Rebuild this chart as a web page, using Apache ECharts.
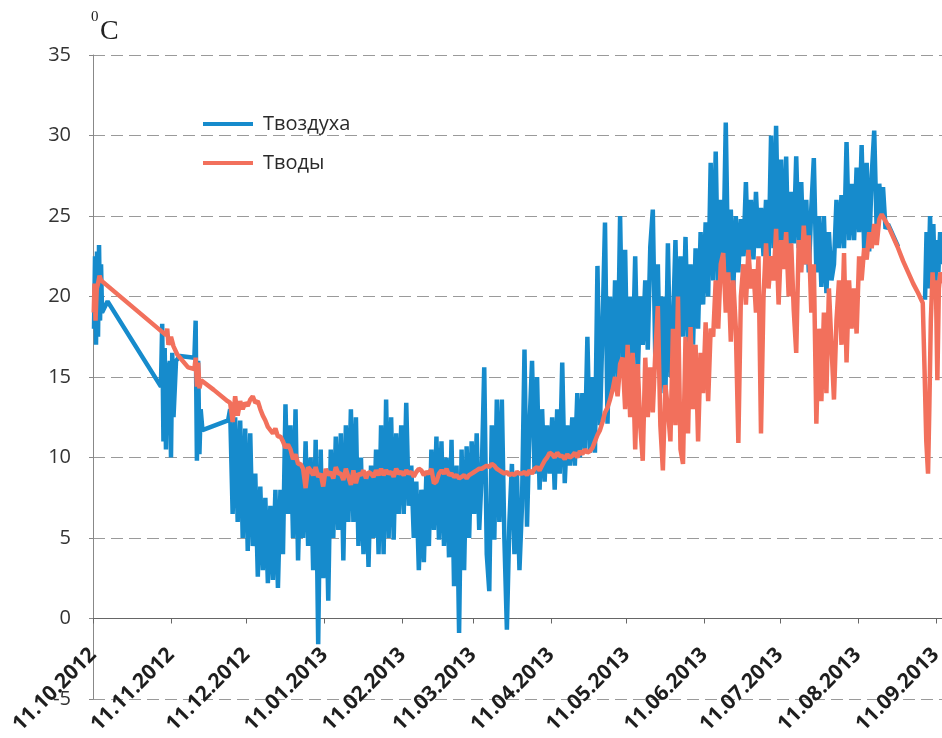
<!DOCTYPE html>
<html>
<head>
<meta charset="utf-8">
<title>Температура воздуха и воды</title>
<script src="https://cdn.jsdelivr.net/npm/echarts@6/dist/echarts.min.js"></script>
<style>
  html, body { margin: 0; padding: 0; background: #ffffff; }
  #chart { width: 942px; height: 738px; }
</style>
</head>
<body>
<div id="chart"></div>
<script>
// Day offsets are counted from 11.10.2012.
const startDate = [2012, 9, 11];

// Month tick labels on the date axis
const monthLabels = ['11.10.2012', '11.11.2012', '11.12.2012', '11.01.2013', '11.02.2013', '11.03.2013',
  '11.04.2013', '11.05.2013', '11.06.2013', '11.07.2013', '11.08.2013', '11.09.2013'];

const seriesNames = ['Твоздуха', 'Тводы'];

// Air temperature: scattered readings in autumn 2012 [day, °C]
const airEarly = [
  [0.4, 18.0], [0.8, 22.5], [1.2, 17.0], [1.6, 22.8], [2.0, 17.5], [2.4, 23.2], [2.8, 18.5], [3.2, 22.0],
  [3.6, 19.0], [5.8, 19.7], [27.0, 14.4], [27.5, 18.3], [28.0, 11.0], [28.5, 16.8], [29.0, 10.5],
  [29.5, 15.9], [30.0, 12.0], [30.5, 16.0], [31.0, 10.0], [31.5, 16.5], [32.0, 12.5], [33.0, 16.0],
  [34.5, 16.3], [40.3, 16.2], [40.8, 18.5], [41.3, 9.8], [41.8, 16.0], [42.3, 10.2], [42.8, 13.0],
  [43.5, 11.7], [53.7, 12.3]
];
// Air temperature: continuous record, one reading per day from day 54.5
const airDailyStart = 54.5;
const airDaily = [
  13.0, 6.5, 12.5, 6.0,   12.3, 5.0, 11.8, 4.2,   11.5, 4.5, 9.0, 2.6,    8.2, 3.0, 7.5, 2.2,
  7.0, 2.4, 8.0, 1.9,     8.0, 4.0, 13.3, 6.5,    12.0, 5.0, 13.0, 3.6,   9.5, 5.0, 11.0, 4.5,
  10.0, 3.0, 11.1, -1.6,  10.5, 2.5, 9.0, 1.1,    10.5, 5.0, 11.3, 5.5,   11.5, 3.6, 12.0, 6.0,
  13.0, 6.0, 12.5, 4.5,   10.0, 4.0, 9.0, 3.2,    9.5, 5.0, 10.5, 4.0,    12.0, 4.0, 13.6, 5.0,
  12.5, 4.9, 11.5, 6.5,   12.0, 6.5, 13.4, 7.0,   9.5, 5.0, 8.5, 3.0,     8.0, 3.5, 9.0, 4.5,
  10.5, 5.5, 11.3, 4.9,   11.0, 4.5, 10.0, 3.8,   11.1, 2.0, 9.5, -0.9,   10.5, 3.0, 10.7, 5.0,
  11.0, 6.5, 11.5, 5.5,   9.0, 15.6, 4.0, 1.7,    12.0, 4.9, 13.6, 6.0,   13.6, 5.0, -0.7, 6.0,
  9.6, 4.0, 9.0, 3.0,     7.0, 16.7, 5.7, 12.0,   16.0, 9.0, 15.0, 8.0,   13.0, 8.5, 12.0, 9.0,
  12.5, 8.0, 13.0, 9.0,   15.9, 8.4, 12.0, 9.5,   12.5, 9.5, 14.0, 10.0,  14.0, 10.5, 17.5, 10.3,
  15.0, 10.3, 21.9, 12.0, 18.0, 24.6, 12.1, 20.0, 14.2, 21.0, 15.0, 25.0, 16.0, 22.9, 14.2, 20.0,
  16.0, 22.5, 15.0, 20.0, 17.0, 21.0, 16.7, 23.1, 25.4, 16.0, 22.0, 14.0, 20.0, 13.8, 23.3, 15.0,
  18.0, 23.5, 16.5, 22.5, 17.5, 23.7, 17.1, 22.0, 17.0, 23.0, 18.0, 24.0, 19.5, 24.6, 20.0, 28.3,
  21.0, 29.0, 20.5, 26.0, 22.0, 30.8, 21.0, 25.4, 20.5, 25.0, 21.5, 24.8, 22.5, 27.1, 22.0, 26.0,
  22.3, 26.5, 23.0, 25.5, 22.5, 26.0, 22.1, 30.0, 23.0, 30.6, 22.5, 28.5, 22.0, 28.7, 21.7, 26.5,
  23.3, 28.7, 23.0, 27.1, 22.0, 26.0, 21.5, 25.5, 28.6, 21.5, 25.0, 20.6, 25.0, 20.2, 24.0, 21.0,
  22.0, 26.0, 23.0, 26.3, 23.0, 29.6, 23.5, 27.0, 23.5, 28.0, 24.0, 29.4, 23.0, 28.3, 22.8, 27.5,
  30.3, 24.0, 27.0, 25.0
];
// Air temperature: end of the record, a logger gap, then September 2013 [day, °C]
const airLate = [
  [314.0, 26.8], [315.0, 24.2], [316.0, 24.5], [320.0, 23.1], [325.0, null],
  [330.7, 19.8], [331.3, 24.0], [332.0, 20.5], [332.7, 25.0], [333.3, 21.0], [334.0, 24.5],
  [334.7, 20.0], [335.3, 23.5], [336.0, 21.5], [336.7, 24.0], [337.4, 22.0]
];

// Water temperature: autumn 2012 [day, °C]
const waterEarly = [
  [0.3, 19.0], [0.6, 20.8], [1.0, 18.5], [1.5, 20.5], [2.0, 20.8], [2.6, 21.3], [3.2, 21.0],
  [29.0, 17.6], [29.5, 18.0], [30.0, 17.0], [31.0, 17.5], [32.0, 16.9], [33.5, 16.4], [37.8, 15.6],
  [40.3, 15.5], [40.8, 16.2], [41.3, 14.4], [41.8, 15.9], [42.3, 14.3], [43.0, 14.8], [48.0, 14.2],
  [53.5, 13.5]
];
// Water temperature: one reading per day from day 54.5
const waterDailyStart = 54.5;
const waterDaily = [
  13.4, 12.2, 13.8, 12.6, 13.5, 13.0, 13.4, 13.2, 13.6, 13.8, 13.4, 13.5, 13.0, 12.6, 12.3, 11.9,
  11.7, 11.5, 11.8, 11.3, 11.3, 11.0, 10.6, 10.8, 10.5, 9.9, 10.2, 9.6,   9.6, 9.3, 8.1, 9.4,
  9.2, 8.9, 9.4, 8.8,     9.0, 8.2, 9.3, 8.9,     9.1, 8.7, 9.4, 9.0,     9.0, 8.6, 9.3, 8.8,
  8.3, 9.2, 8.4, 9.0,     8.9, 9.2, 8.7, 9.1,     9.0, 8.8, 9.2, 8.9,     9.3, 8.9, 9.2, 9.0,
  9.1, 8.8, 9.3, 9.0,     9.1, 8.9, 9.2, 9.0,     9.1, 8.8, 9.1, 9.3,     9.2, 8.9, 9.1, 9.0,
  9.3, 8.4, 8.5, 9.0,     9.2, 9.0, 9.3, 8.9,     9.0, 8.8, 8.9, 8.7,     8.8, 8.9, 8.7, 8.9,
  9.0, 9.1, 9.2, 9.3,     9.3, 9.4, 9.5, 9.4,     9.6, 9.5, 9.3, 9.2,     9.1, 9.0, 9.1, 8.9,
  9.0, 8.9, 9.1, 9.0,     9.0, 9.1, 8.9, 9.2,     9.0, 9.3, 9.4, 9.2,     9.5, 9.8, 10.0, 10.3,
  10.2, 10.0, 10.3, 10.1, 10.1, 9.9, 10.2, 10.0, 10.1, 10.3, 10.0, 10.4, 10.2, 10.5, 10.3, 10.4,
  10.6, 11.0, 11.4, 11.7, 12.2, 12.8, 13.1, 13.6, 14.2, 15.0, 13.8, 15.8, 16.2, 13.0, 17.0, 12.5,
  16.5, 10.5, 15.8, 12.0, 9.8, 16.2, 12.5, 15.6,  12.8, 16.5, 19.4, 12.0, 9.2, 14.5, 13.0, 11.0,
  18.0, 12.0, 20.0, 10.5, 9.6, 17.5, 11.5, 18.1,  13.0, 17.0, 11.0, 16.5, 14.0, 18.4, 13.5, 18.0,
  17.5, 21.0, 18.0, 22.0, 22.7, 19.0, 21.5, 17.2, 21.0, 18.0, 10.9, 20.0, 22.0, 19.5, 22.9, 20.5,
  21.7, 19.0, 22.5, 11.5, 20.0, 23.3, 20.5, 22.5, 21.0, 24.2, 19.5, 23.5, 21.7, 24.0, 20.0, 23.3,
  19.2, 16.5, 23.5, 21.5, 24.4, 22.0, 23.8, 19.0, 22.0, 12.1, 18.0, 13.5, 19.0, 14.0, 20.5, 17.0,
  13.6, 18.5, 21.0, 17.0, 22.7, 15.9, 21.0, 18.0, 20.5, 17.7, 22.5, 21.0, 23.0, 22.3, 24.0, 23.0,
  24.5, 23.2, 24.8, 25.1
];
// Water temperature: autumn cooling and September 2013 [day, °C]
const waterLate = [
  [314.0, 25.0], [316.0, 24.4], [318.0, 23.7], [320.0, 23.0], [322.0, 22.2], [324.0, 21.5],
  [326.0, 20.8], [328.0, 20.2], [329.8, 19.6], [330.5, 15.5], [331.2, 11.0], [331.9, 9.0],
  [332.4, 13.0], [333.0, 18.5], [333.7, 21.5], [334.3, 20.0], [335.0, 21.0], [335.6, 14.8],
  [336.2, 20.5], [336.8, 21.5], [337.4, 20.8]
];

const DAY = 86400000;
const t0 = Date.UTC(startDate[0], startDate[1], startDate[2]);
const toTime = d => t0 + d * DAY;
const tMax = toTime(344.2);

function parseLabel(s) {
  const p = s.split('.').map(Number);
  return Date.UTC(p[2], p[1] - 1, p[0]);
}
const tickTimes = monthLabels.map(parseLabel);
const labelByTime = {};
monthLabels.forEach((s, i) => { labelByTime[tickTimes[i]] = s; });

function buildSeries(early, daily, dailyStart, late) {
  const out = [];
  early.forEach(([d, v]) => out.push([toTime(d), v]));
  daily.forEach((v, i) => out.push([toTime(dailyStart + i), v]));
  late.forEach(([d, v]) => out.push([toTime(d), v]));
  return out;
}
const airData = buildSeries(airEarly, airDaily, airDailyStart, airLate);
const waterData = buildSeries(waterEarly, waterDaily, waterDailyStart, waterLate);

// Plot area: −5…35 °C over 644 px; the date axis crosses at 0 °C.
const plotTop = 55, plotHeight = 644, yMin = -5, yMax = 35;
const zeroOffset = plotHeight * (yMax - 0) / (yMax - yMin);

const chart = echarts.init(document.getElementById('chart'), null, { renderer: 'canvas' });
chart.setOption({
  animation: false,
  backgroundColor: '#ffffff',
  grid: [
    { left: 93, top: plotTop, width: 866, height: plotHeight, containLabel: false, outerBoundsMode: 'none' },
    // band above 0 °C, carrying the date axis with its labels
    { left: 93, top: plotTop, width: 866, height: zeroOffset, containLabel: false, outerBoundsMode: 'none' }
  ],
  legend: {
    orient: 'vertical', left: 203, top: 114, itemWidth: 50, itemHeight: 20, itemGap: 19, padding: 0,
    icon: 'path://M0,8 L50,8 L50,12 L0,12 Z',
    textStyle: { fontSize: 20, color: '#2a2a2a', fontFamily: 'Open Sans', padding: [0, 0, 0, 5] },
    data: seriesNames
  },
  graphic: [
    { type: 'text', left: 91, top: 10, style: { text: '0', font: '15px "Liberation Serif"', fill: '#222' } },
    { type: 'text', left: 100, top: 18, style: { text: 'C', font: '28px "Liberation Serif"', fill: '#222' } }
  ],
  xAxis: [
    {
      gridIndex: 0, type: 'value', min: t0, max: tMax,
      axisLine: { show: false }, axisTick: { show: false }, axisLabel: { show: false },
      splitLine: { show: false }
    },
    {
      gridIndex: 1, type: 'value', min: t0, max: tMax, position: 'bottom',
      axisLine: { show: true, onZero: false, lineStyle: { color: '#666', width: 1 } },
      axisTick: { show: true, customValues: tickTimes, length: 5, lineStyle: { color: '#666' } },
      axisLabel: {
        customValues: tickTimes, rotate: 45, margin: 33, fontSize: 21, fontWeight: 'bold',
        color: '#1e1e1e', fontFamily: 'Open Sans',
        formatter: v => labelByTime[v] || ''
      },
      splitLine: { show: false }
    }
  ],
  yAxis: [
    {
      gridIndex: 0, type: 'value', min: yMin, max: yMax, interval: 5,
      axisLine: { show: true, onZero: false, lineStyle: { color: '#888' } },
      axisTick: { show: true, length: 4, lineStyle: { color: '#888' } },
      axisLabel: { fontSize: 20, color: '#333', margin: 22, fontFamily: 'Open Sans' },
      splitLine: { show: true, lineStyle: { color: '#9a9a9a', type: [12, 6], width: 1 } }
    },
    {
      gridIndex: 1, type: 'value', min: 0, max: yMax, show: false
    }
  ],
  series: [
    {
      name: seriesNames[0], type: 'line', xAxisIndex: 0, yAxisIndex: 0, data: airData,
      showSymbol: false, connectNulls: false,
      lineStyle: { color: '#168bcc', width: 4.5 }, itemStyle: { color: '#168bcc' }, z: 2
    },
    {
      name: seriesNames[1], type: 'line', xAxisIndex: 0, yAxisIndex: 0, data: waterData,
      showSymbol: false,
      lineStyle: { color: '#f2705c', width: 4.5 }, itemStyle: { color: '#f2705c' }, z: 3
    }
  ]
});
</script>
</body>
</html>
